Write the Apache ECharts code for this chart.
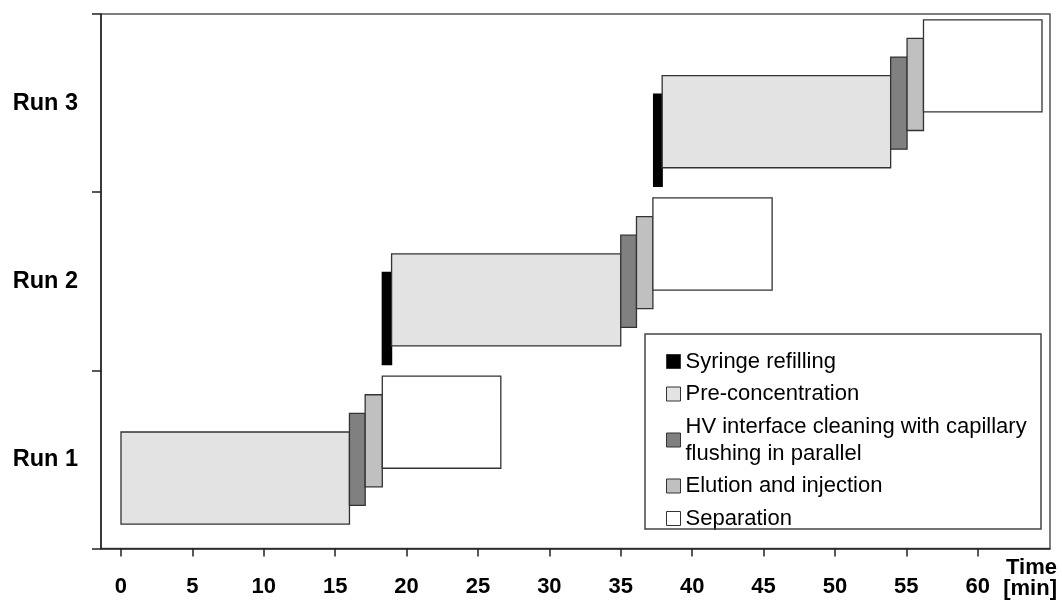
<!DOCTYPE html>
<html>
<head>
<meta charset="utf-8">
<script src="https://cdn.jsdelivr.net/npm/echarts@6/dist/echarts.min.js"></script>
<style>
  html, body { margin: 0; padding: 0; background: #fff; }
  #chart { width: 1062px; height: 600px; }
</style>
</head>
<body>
<div id="chart"></div>
<script>
// ---- data ----
const runs = ['Run 1', 'Run 2', 'Run 3'];
const phaseNames = [
  'Syringe refilling',
  'Pre-concentration',
  'HV interface cleaning with capillary\nflushing in parallel',
  'Elution and injection',
  'Separation'
];
const phaseColors = ['#000000', '#e3e3e3', '#808080', '#c0c0c0', '#ffffff'];
// start / end times (min) per run; null = phase absent in that run
const syringeStart    = [null, 18.3, 37.3];
const syringeEnd      = [null, 18.95, 37.9];
const preconcStart    = [0, 18.95, 37.9];
const preconcEnd      = [16.0, 35.0, 53.9];
const hvStart         = [16.0, 35.0, 53.9];
const hvEnd           = [17.1, 36.1, 55.05];
const elutionStart    = [17.1, 36.1, 55.05];
const elutionEnd      = [18.3, 37.25, 56.2];
const separationStart = [18.3, 37.25, 56.2];
const separationEnd   = [26.6, 45.6, 64.5];
const xTicks = [0, 5, 10, 15, 20, 25, 30, 35, 40, 45, 50, 55, 60];

const phaseStarts = [syringeStart, preconcStart, hvStart, elutionStart, separationStart];
const phaseEnds   = [syringeEnd, preconcEnd, hvEnd, elutionEnd, separationEnd];

// ---- layout (fractions of category band) ----
const barFrac = 0.517;
const stepFrac = 0.1045;
const phaseOffsetSteps = [2, 1, 0, -1, -2]; // positive = down

const FONT = "'Liberation Sans', Arial, Helvetica, sans-serif";

function makeSeries(pi) {
  const data = [];
  for (let r = 0; r < runs.length; r++) {
    if (phaseStarts[pi][r] === null) continue;
    data.push([r, phaseStarts[pi][r], phaseEnds[pi][r]]);
  }
  return {
    type: 'custom',
    name: phaseNames[pi],
    itemStyle: {
      color: phaseColors[pi],
      borderColor: pi === 0 ? '#000' : '#333',
      borderWidth: 1.3
    },
    encode: { x: [1, 2], y: 0 },
    renderItem: function (params, api) {
      const cat = api.value(0);
      const p0 = api.coord([api.value(1), cat]);
      const p1 = api.coord([api.value(2), cat]);
      const band = api.size([0, 1])[1];
      const h = band * barFrac;
      const off = band * stepFrac * phaseOffsetSteps[pi];
      return {
        type: 'rect',
        shape: { x: p0[0], y: p0[1] - h / 2 + off, width: p1[0] - p0[0], height: h },
        style: api.style()
      };
    },
    data: data
  };
}

const chart = echarts.init(document.getElementById('chart'));
chart.setOption({
  animation: false,
  backgroundColor: '#fff',
  grid: {
    left: 101, right: 12, top: 14, bottom: 51,
    show: true, borderColor: '#555', borderWidth: 1.5, backgroundColor: 'transparent'
  },
  xAxis: {
    type: 'value',
    min: -1.4,
    max: 65.06,
    name: 'Time\n[min]',
    nameLocation: 'end',
    nameGap: 7,
    nameTextStyle: {
      fontFamily: FONT, fontSize: 22, fontWeight: 'bold', color: '#000',
      align: 'right', verticalAlign: 'top', lineHeight: 21, padding: [9, 0, 0, 0]
    },
    axisLine: { show: true, onZero: false, lineStyle: { color: '#222', width: 1.5 } },
    axisTick: { show: true, length: 8, customValues: xTicks, lineStyle: { color: '#222', width: 1.5 } },
    axisLabel: {
      customValues: xTicks,
      fontFamily: FONT, fontSize: 22, fontWeight: 'bold', color: '#000',
      margin: 27, lineHeight: 22
    },
    splitLine: { show: false }
  },
  yAxis: {
    type: 'category',
    data: runs,
    axisLine: { show: true, onZero: false, lineStyle: { color: '#222', width: 1.5 } },
    axisTick: { show: true, length: 9, lineStyle: { color: '#222', width: 1.5 } },
    axisLabel: {
      fontFamily: FONT, fontSize: 23.5, fontWeight: 'bold', color: '#000', margin: 23
    },
    splitLine: { show: false }
  },
  legend: {
    orient: 'vertical',
    left: 666,
    top: 348,
    padding: 0,
    itemWidth: 14,
    itemHeight: 14,
    itemGap: 5.5,
    icon: 'rect',
    selectedMode: false,
    itemStyle: { borderColor: '#333', borderWidth: 1 },
    textStyle: { fontFamily: FONT, fontSize: 22, color: '#000', lineHeight: 27 },
    data: phaseNames
  },
  graphic: [{
    type: 'rect',
    z: 100,
    shape: { x: 645, y: 334, width: 396, height: 195 },
    style: { fill: 'none', stroke: '#444', lineWidth: 1.5 }
  }],
  series: phaseNames.map((_, i) => makeSeries(i))
});
</script>
</body>
</html>
